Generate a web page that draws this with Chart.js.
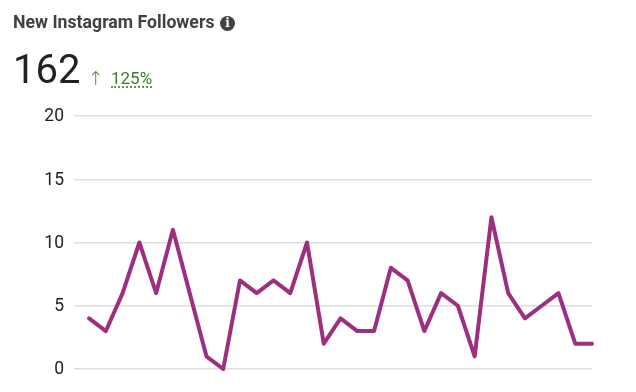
<!DOCTYPE html>
<html>
<head>
<meta charset="utf-8">
<script src="https://cdn.jsdelivr.net/npm/chart.js@4"></script>
<style>
  html, body { margin: 0; background: #fff; }
  body { width: 636px; height: 392px; position: relative; overflow: hidden; font-family: Roboto, sans-serif; }
  #title { position: absolute; left: 13px; top: 12px; font-size: 17.7px; font-weight: 700; color: #3f4245; line-height: 20px; white-space: nowrap; }
  #info { position: absolute; left: 220px; top: 16px; width: 15px; height: 15px; border-radius: 50%; background: #3f4245; color: #fff; font: 700 12px/15px "DejaVu Serif", serif; text-align: center; }
  #total { position: absolute; left: 13px; top: 47px; font-size: 40px; line-height: 46px; color: #202124; }
  #arrow { position: absolute; left: 88px; top: 67px; font: 200 19px/22px "DejaVu Sans", sans-serif; color: #4f8a3c; }
  #change { position: absolute; left: 111px; top: 70px; font-size: 17px; line-height: 16px; color: #3f7a2c; border-bottom: 2px dotted #5a9a46; }
  #wrap { position: absolute; left: 0; top: 0; width: 636px; height: 392px; }
</style>
</head>
<body>
<div id="wrap"><canvas id="followersChart"></canvas></div>
<div id="title">New Instagram Followers</div>
<div id="info">i</div>
<div id="total">162</div>
<div id="arrow">↑</div>
<div id="change">125%</div>
<script>
const DAYS = [1, 2, 3, 4, 5, 6, 7, 8, 9, 10, 11, 12, 13, 14, 15, 16, 17, 18, 19, 20, 21, 22, 23, 24, 25, 26, 27, 28, 29, 30, 31];
const FOLLOWERS = [4, 3, 6, 10, 6, 11, 6, 1, 0, 7, 6, 7, 6, 10, 2, 4, 3, 3, 8, 7, 3, 6, 5, 1, 12, 6, 4, 5, 6, 2, 2];
const Y_TICKS = [0, 5, 10, 15, 20];

new Chart(document.getElementById('followersChart').getContext('2d'), {
  type: 'line',
  data: {
    datasets: [
      {
        label: 'New Instagram Followers',
        data: DAYS.map((day, i) => ({ x: day, y: FOLLOWERS[i] })),
        borderColor: '#9c2f80',
        borderWidth: 4,
        borderCapStyle: 'round',
        borderJoinStyle: 'round',
        tension: 0,
        pointRadius: 0,
        clip: false,
      },
    ],
  },
  options: {
    responsive: true,
    maintainAspectRatio: false,
    animation: false,
    layout: { padding: { top: 116, right: 44, bottom: 23, left: 0 } },
    scales: {
      x: { type: 'linear', min: 0.1, max: 31, display: false },
      y: {
        min: 0,
        max: 20,
        afterFit: (axis) => { axis.width = 74; },
        afterBuildTicks: (axis) => { axis.ticks = Y_TICKS.map((value) => ({ value })); },
        ticks: { padding: 10, labelOffset: 1, color: '#222', font: { family: 'Roboto', size: 17.5 } },
        grid: { color: '#dedede', lineWidth: 1.5, drawTicks: false },
        border: { display: false },
      },
    },
    plugins: { legend: { display: false }, tooltip: { enabled: false } },
  },
});
</script>
</body>
</html>
